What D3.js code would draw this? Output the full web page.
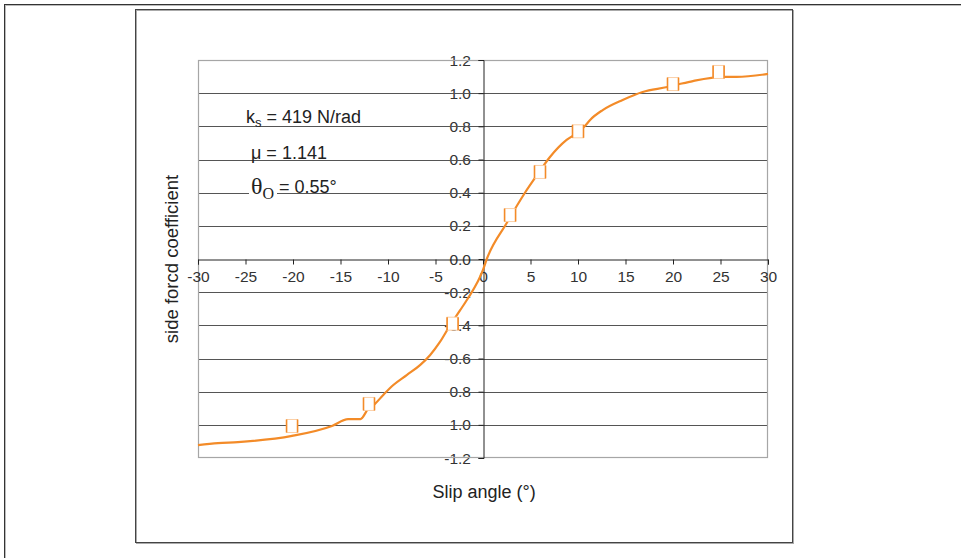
<!DOCTYPE html>
<html><head><meta charset="utf-8">
<script src="https://cdn.jsdelivr.net/npm/d3@7"></script>
<style>body{margin:0;background:#fff}svg{display:block;font-family:"Liberation Sans",Arial,sans-serif}</style>
</head><body>
<svg id="c" width="961" height="558"></svg>
<script>
const curveX = [-30,-27.9,-25.8,-20.1,-15.9,-14.2,-12.9,-12.1,-11.4,-10.5,-9.44,-8.03,-6.63,-5.58,-4.53,-3.47,-2.42,-1.7,0,0.4,2.5,4.4,5.7,7.05,8.8,9.9,10.7,11.3,12.6,14.7,16.8,19.4,20.7,22.1,25.3,26.7,30];
const curveY = [-1.122,-1.11,-1.104,-1.067,-1.007,-0.965,-0.965,-0.905,-0.875,-0.82,-0.76,-0.70,-0.64,-0.58,-0.50,-0.40,-0.31,-0.247,-0.066,0,0.217,0.398,0.507,0.615,0.718,0.76,0.8,0.84,0.898,0.959,1.007,1.037,1.055,1.073,1.098,1.098,1.116];
const markerX = [-20.1,-12,-3.2,2.85,6,10,20,24.8];
const markerY = [-1.007,-0.874,-0.39,0.265,0.525,0.77,1.055,1.128];
const xTicks = [-30,-25,-20,-15,-10,-5,0,5,10,15,20,25,30];
const yTicks = [1.2,1.0,0.8,0.6,0.4,0.2,0.0,-0.2,-0.4,-0.6,-0.8,-1.0,-1.2];
const yTickLabels = ["1.2","1.0","0.8","0.6","0.4","0.2","0.0","-0.2","-0.4","-0.6","0.8","1.0","-1.2"];

const svg = d3.select("#c");
svg.append("rect").attr("x",5.5).attr("y",5.5).attr("width",1000).attr("height",1000).attr("fill","none").attr("stroke","#bbb").attr("stroke-width",1);
svg.append("rect").attr("x",4.5).attr("y",4.5).attr("width",1000).attr("height",1000).attr("fill","none").attr("stroke","#333").attr("stroke-width",1);
svg.append("rect").attr("x",136.5).attr("y",10.5).attr("width",657).attr("height",533).attr("fill","none").attr("stroke","#aaa").attr("stroke-width",1);
svg.append("rect").attr("x",135.5).attr("y",9.5).attr("width",657).attr("height",533).attr("fill","none").attr("stroke","#444").attr("stroke-width",1);

const x = d3.scaleLinear().domain([-30,30]).range([198,768]);
const y = d3.scaleLinear().domain([-1.2,1.2]).range([458,60]);

const yl = svg.append("g");
yTicks.forEach((t,i)=>{
  yl.append("text").attr("x",471).attr("y",y(t)).attr("dy","0.36em").attr("text-anchor","end")
    .attr("font-size",15.5).attr("fill","#333").text(yTickLabels[i]);
});
svg.append("g").selectAll("line").data(yTicks.filter(t=>Math.abs(t)<1.1 && t!==0)).join("line")
  .attr("x1",198).attr("x2",768).attr("y1",d=>Math.round(y(d))+0.5).attr("y2",d=>Math.round(y(d))+0.5)
  .attr("stroke","#555").attr("stroke-width",1);
svg.append("rect").attr("x",198.5).attr("y",60.5).attr("width",569).attr("height",397)
  .attr("fill","none").attr("stroke","#a6a6a6").attr("stroke-width",1.2);

const xAxis = d3.axisBottom(x).tickValues(xTicks).tickSize(5).tickFormat(d3.format("d"));
const gx = svg.append("g").attr("transform",`translate(0,${Math.round(y(0))+0.5})`).call(xAxis);
gx.select(".domain").attr("stroke","#222");
gx.selectAll(".tick line").attr("stroke","#222");
gx.selectAll(".tick text").attr("font-size",15.5).attr("fill","#333").attr("font-family","Liberation Sans, Arial, sans-serif").attr("y",11).text(d=>String(d));
const yAxis = d3.axisLeft(y).tickValues(yTicks).tickSize(5).tickFormat("");
const gy = svg.append("g").attr("transform",`translate(${Math.round(x(0))+0.5},0)`).call(yAxis);
gy.select(".domain").attr("stroke","#222");
gy.selectAll(".tick line").attr("stroke","#222");

const line = d3.line().x((d,i)=>x(curveX[i])).y((d,i)=>y(curveY[i])).curve(d3.curveMonotoneX);
svg.append("path").datum(curveX).attr("d",line).attr("fill","none").attr("stroke","#f38b28").attr("stroke-width",2.2).attr("stroke-linejoin","round");

const mg = svg.append("g");
markerX.forEach((mx,i)=>{
  const cx = x(mx), cy = y(markerY[i]);
  mg.append("rect").attr("x",cx-5.5).attr("y",cy-6.5).attr("width",11).attr("height",13).attr("fill","#fff").attr("stroke","#fbd0a8").attr("stroke-width",1);
  mg.append("line").attr("x1",cx-5.5).attr("x2",cx-5.5).attr("y1",cy-6.5).attr("y2",cy+6.5).attr("stroke","#f38b28").attr("stroke-width",1.6);
  mg.append("line").attr("x1",cx+5.5).attr("x2",cx+5.5).attr("y1",cy-6.5).attr("y2",cy+6.5).attr("stroke","#f38b28").attr("stroke-width",1.6);
});

svg.append("text").attr("x",484).attr("y",498).attr("text-anchor","middle").attr("font-size",18).attr("fill","#222").text("Slip angle (°)");
svg.append("text").attr("transform","translate(178,259) rotate(-90)").attr("text-anchor","middle").attr("font-size",18.5).attr("fill","#222").text("side forcd coefficient");

const t1 = svg.append("text").attr("x",246).attr("y",123).attr("font-size",18).attr("fill","#222");
t1.append("tspan").text("k");
t1.append("tspan").attr("font-size",13).attr("dy",4).text("s");
t1.append("tspan").attr("dy",-4).text(" = 419 N/rad");
svg.append("text").attr("x",251).attr("y",159).attr("font-size",18).attr("fill","#222").text("μ = 1.141");
svg.append("rect").attr("x",249).attr("y",174).attr("width",28).attr("height",28).attr("fill","#fff");
const t3 = svg.append("text").attr("x",251).attr("y",194).attr("fill","#222");
t3.append("tspan").attr("font-family","Liberation Serif, Times New Roman, serif").attr("font-size",24).text("θ");
t3.append("tspan").attr("font-family","Liberation Serif, Times New Roman, serif").attr("font-size",16).attr("dy",5).text("O");
t3.append("tspan").attr("font-size",18).attr("dy",-6).attr("x",279).text("= 0.55°");
</script>
</body></html>
